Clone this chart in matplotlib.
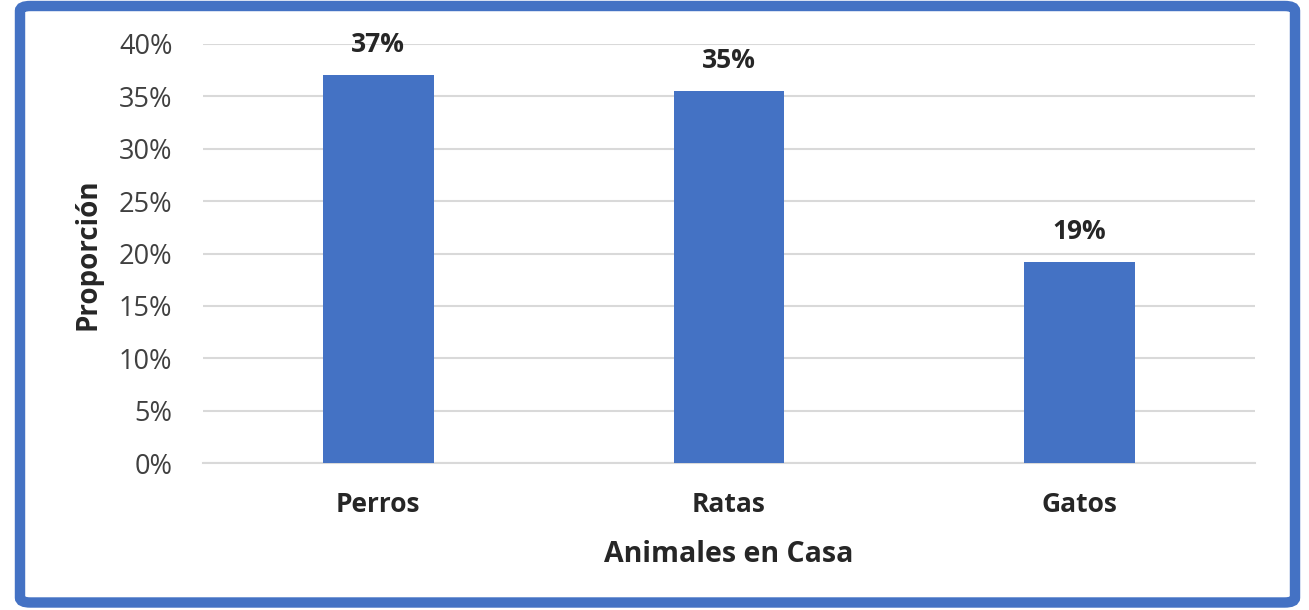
import matplotlib.pyplot as plt
from matplotlib.patches import FancyBboxPatch
from matplotlib.ticker import PercentFormatter

categorias = ["Perros", "Ratas", "Gatos"]
proporcion = [0.370, 0.355, 0.192]
etiquetas = ["37%", "35%", "19%"]

plt.rcParams['font.family'] = ['Open Sans', 'DejaVu Sans']

fig = plt.figure(figsize=(13.09, 6.10), dpi=100)
ax = fig.add_axes([203/1309, 1-463/610, (1255-203)/1309, (463-44)/610])

x = range(len(categorias))
ax.bar(x, proporcion, width=0.315, color="#4472C4", zorder=3)
for i, v in enumerate(proporcion):
    ax.annotate(etiquetas[i], (i, v), xytext=(0, 22), textcoords="offset points",
                ha="center", va="center", fontsize=19, fontweight="bold", color="#262626")

ax.set_xlim(-0.5, 2.5)
ax.set_ylim(0, 0.40)
ax.set_yticks([i*0.05 for i in range(9)])
ax.yaxis.set_major_formatter(PercentFormatter(1.0, decimals=0))
ax.set_xticks(list(x))
ax.set_xticklabels(categorias, fontsize=19, fontweight="bold", color="#262626")
ax.tick_params(axis="y", labelsize=19.5, labelcolor="#404040", length=0, pad=22)
ax.tick_params(axis="x", length=0, pad=20)
ax.grid(axis="y", color="#D9D9D9", linewidth=1.5, zorder=0)
for s in ["top", "right", "left"]:
    ax.spines[s].set_visible(False)
ax.spines["bottom"].set_color("#D9D9D9")
ax.spines["bottom"].set_linewidth(1.5)

ax.set_xlabel("Animales en Casa", fontsize=20.5, fontweight="bold", color="#262626", labelpad=16)
fig.text(88/1309, 1-254/610, "Proporción", rotation=90, ha="center", va="center",
         fontsize=20, fontweight="bold", color="#262626")

borde = FancyBboxPatch((20/1309, 7.5/610), (1295-20)/1309, (604-7.5)/610,
                       boxstyle="round,pad=0,rounding_size=0.008", transform=fig.transFigure,
                       fill=False, edgecolor="#4472C4", linewidth=7.5)
fig.patches.append(borde)

fig.savefig("out.png", dpi=100)
